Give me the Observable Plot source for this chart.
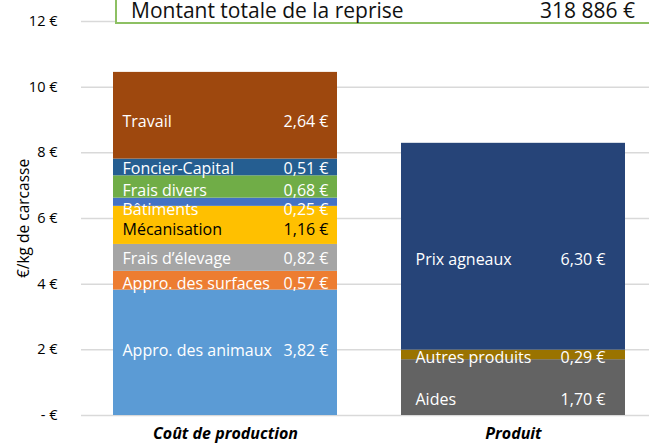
<!DOCTYPE html>
<html>
<head>
<meta charset="utf-8">
<script src="https://cdn.jsdelivr.net/npm/d3@7"></script>
<script src="https://cdn.jsdelivr.net/npm/@observablehq/plot@0.6"></script>
<style>
  html, body { margin: 0; padding: 0; background: #fff; overflow: hidden; }
  #wrap { position: relative; width: 649px; height: 447px; font-family: "Open Sans", sans-serif; }
  #box { position: absolute; left: 115px; top: 0; right: -10px; height: 21.5px;
         background: #fff; border-left: 2.5px solid #8DC063; border-bottom: 2.5px solid #8DC063; }
  #box span { position: absolute; top: 0; font-size: 21px; color: #111; line-height: 20px; white-space: nowrap; }
  #box .l { left: 14px; }
  #box .r { right: 24px; }
</style>
</head>
<body>
<div id="wrap">
  <div id="chart"></div>
  <div id="box"><span class="l">Montant totale de la reprise</span><span class="r">318 886 €</span></div>
</div>
<script>
// ---- data ----
const categories = ["Coût de production", "Produit"];
const costNames = ["Appro. des animaux", "Appro. des surfaces", "Frais d’élevage", "Mécanisation", "Bâtiments", "Frais divers", "Foncier-Capital", "Travail"];
const costValues = [3.82, 0.57, 0.82, 1.16, 0.25, 0.68, 0.51, 2.64];
const productNames = ["Aides", "Autres produits", "Prix agneaux"];
const productValues = [1.70, 0.29, 6.30];
const yTicks = [0, 2, 4, 6, 8, 10, 12];
const yTitle = "€/kg de carcasse";

// ---- styles ----
const colors = {
  "Appro. des animaux": "#5B9BD5", "Appro. des surfaces": "#ED7D31", "Frais d’élevage": "#A5A5A5",
  "Mécanisation": "#FFC000", "Bâtiments": "#4472C4", "Frais divers": "#70AD47",
  "Foncier-Capital": "#255E91", "Travail": "#9E480E",
  "Aides": "#636363", "Autres produits": "#9A7300", "Prix agneaux": "#264478"
};
const labelDy = {
  "Travail": 6, "Foncier-Capital": 1, "Frais divers": 4, "Bâtiments": 8, "Mécanisation": 4,
  "Frais d’élevage": 1, "Appro. des surfaces": 3, "Appro. des animaux": -2,
  "Prix agneaux": 13, "Autres produits": 3, "Aides": 12
};
const darkText = new Set(["Mécanisation"]);
const dxName = {"Coût de production": -103, "Produit": -98};
const dxValue = {"Coût de production": 103, "Produit": 92};

function build(cat, names, values) {
  let acc = 0;
  return names.map((n, i) => {
    const y1 = acc; acc += values[i];
    return {cat, name: n, value: values[i], y1, y2: acc, mid: (y1 + acc) / 2};
  });
}
const rows = [...build(categories[0], costNames, costValues), ...build(categories[1], productNames, productValues)];
const fmt = v => v.toFixed(2).replace(".", ",") + " €";
const FONT = 16;

const labelMarks = rows.flatMap(r => [
  Plot.text([r], {x: "cat", y: "mid", text: "name", textAnchor: "start", dx: dxName[r.cat], dy: labelDy[r.name],
    fill: darkText.has(r.name) ? "#000" : "#fff", fontSize: FONT}),
  Plot.text([r], {x: "cat", y: "mid", text: d => fmt(d.value), textAnchor: "end", dx: dxValue[r.cat], dy: labelDy[r.name],
    fill: darkText.has(r.name) ? "#000" : "#fff", fontSize: FONT})
]);

const chart = Plot.plot({
  width: 649,
  height: 447,
  marginLeft: 81,
  marginRight: 0,
  marginTop: 21,
  marginBottom: 32,
  style: {fontFamily: "'Open Sans', sans-serif", color: "#000", background: "#fff"},
  x: {domain: categories, range: [81, 657], paddingInner: 0.2222, paddingOuter: 0.1111},
  y: {domain: [0, 12]},
  marks: [
    Plot.ruleY(yTicks, {stroke: "#D9D9D9", strokeWidth: 1.5}),
    Plot.barY(rows, {x: "cat", y1: "y1", y2: "y2", fill: d => colors[d.name]}),
    ...labelMarks,
    Plot.axisY({ticks: yTicks, tickSize: 0, tickPadding: 24, fontSize: 14.5,
      tickFormat: d => d === 0 ? "- €" : d + " €", label: null}),
    Plot.axisY({ticks: [], tickSize: 0, fontSize: 15.5,
      label: yTitle, labelAnchor: "center", labelArrow: "none", labelOffset: 64}),
    Plot.axisX({tickSize: 0, tickPadding: 12, fontSize: 16, fontWeight: "bold", fontStyle: "italic", label: null})
  ]
});
document.getElementById("chart").appendChild(chart);
</script>
</body>
</html>
